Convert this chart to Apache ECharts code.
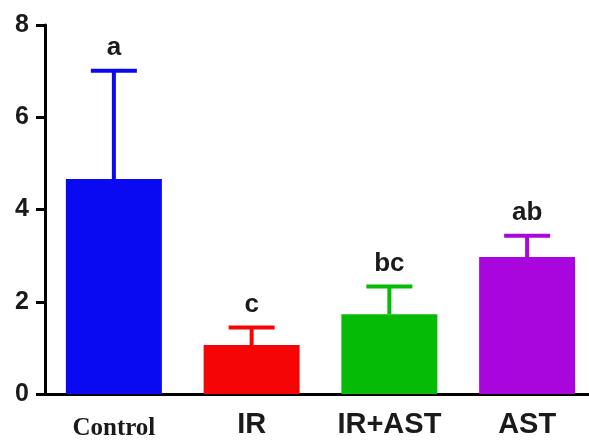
<!DOCTYPE html>
<html>
<head>
<meta charset="utf-8">
<script src="https://cdn.jsdelivr.net/npm/echarts@6/dist/echarts.min.js"></script>
<style>
  html, body { margin: 0; padding: 0; background: #fff; }
  #chart { width: 589px; height: 440px; }
</style>
</head>
<body>
<div id="chart"></div>
<script>
// Group means, upper error (SD) and significance letters
const categories = ['Control', 'IR', 'IR+AST', 'AST'];
const means = [4.66, 1.06, 1.73, 2.97];
const errors = [2.35, 0.38, 0.60, 0.46];
const letters = ['a', 'c', 'bc', 'ab'];
const yTicks = [0, 2, 4, 6, 8];

const BAR_COLORS = ['#0a0af2', '#f50505', '#05bb05', '#a806dc'];

const chart = echarts.init(document.getElementById('chart'));

// Category labels: "Control" is set in a serif face in the original
const xAxisData = categories.map(name => {
    if (name === 'Control') {
        return {
            value: name,
            textStyle: { fontFamily: 'Liberation Serif', fontSize: 25, fontWeight: 'bold', padding: [6, 0, 0, 0] }
        };
    }
    return { value: name };
});

const errorData = categories.map((name, i) => [i, means[i], means[i] + errors[i], letters[i]]);

const option = {
    animation: false,
    // the x axis runs past the right edge in the original
    grid: { left: 45, right: -7, top: 25, bottom: 46, containLabel: false, outerBoundsMode: 'none' },
    xAxis: {
        type: 'category',
        data: xAxisData,
        axisLine: { lineStyle: { color: '#000', width: 3 } },
        axisTick: { alignWithLabel: true, length: 9, lineStyle: { color: '#000', width: 3 } },
        axisLabel: {
            color: '#1a1a1a',
            fontFamily: 'Liberation Sans',
            fontWeight: 'bold',
            fontSize: 29,
            margin: 16,
            interval: 0
        }
    },
    yAxis: {
        type: 'value',
        min: yTicks[0],
        max: yTicks[yTicks.length - 1],
        interval: 2,
        splitLine: { show: false },
        axisLine: { show: true, lineStyle: { color: '#000', width: 3 } },
        axisTick: { show: true, length: 9, lineStyle: { color: '#000', width: 3 } },
        axisLabel: {
            color: '#1a1a1a',
            fontFamily: 'Liberation Sans',
            fontWeight: 'bold',
            fontSize: 25,
            margin: 16
        }
    },
    series: [
        {
            type: 'bar',
            data: means.map((v, i) => ({ value: v, itemStyle: { color: BAR_COLORS[i] } })),
            barWidth: 96
        },
        {
            type: 'custom',
            data: errorData,
            z: 3,
            renderItem: function (params, api) {
                const i = api.value(0);
                const base = api.coord([i, api.value(1)]);
                const top = api.coord([i, api.value(2)]);
                const color = BAR_COLORS[params.dataIndex];
                const capHalf = 23;
                return {
                    type: 'group',
                    children: [
                        {
                            type: 'rect',
                            shape: { x: base[0] - 2, y: top[1], width: 4, height: base[1] - top[1] },
                            style: { fill: color }
                        },
                        {
                            type: 'rect',
                            shape: { x: base[0] - capHalf, y: top[1] - 2, width: capHalf * 2, height: 4 },
                            style: { fill: color }
                        },
                        {
                            type: 'text',
                            x: base[0],
                            y: top[1] - 23,
                            style: {
                                text: letters[params.dataIndex],
                                fill: '#1a1a1a',
                                font: 'bold 26px "Liberation Sans"',
                                align: 'center',
                                verticalAlign: 'middle'
                            }
                        }
                    ]
                };
            }
        }
    ]
};

chart.setOption(option);
</script>
</body>
</html>
